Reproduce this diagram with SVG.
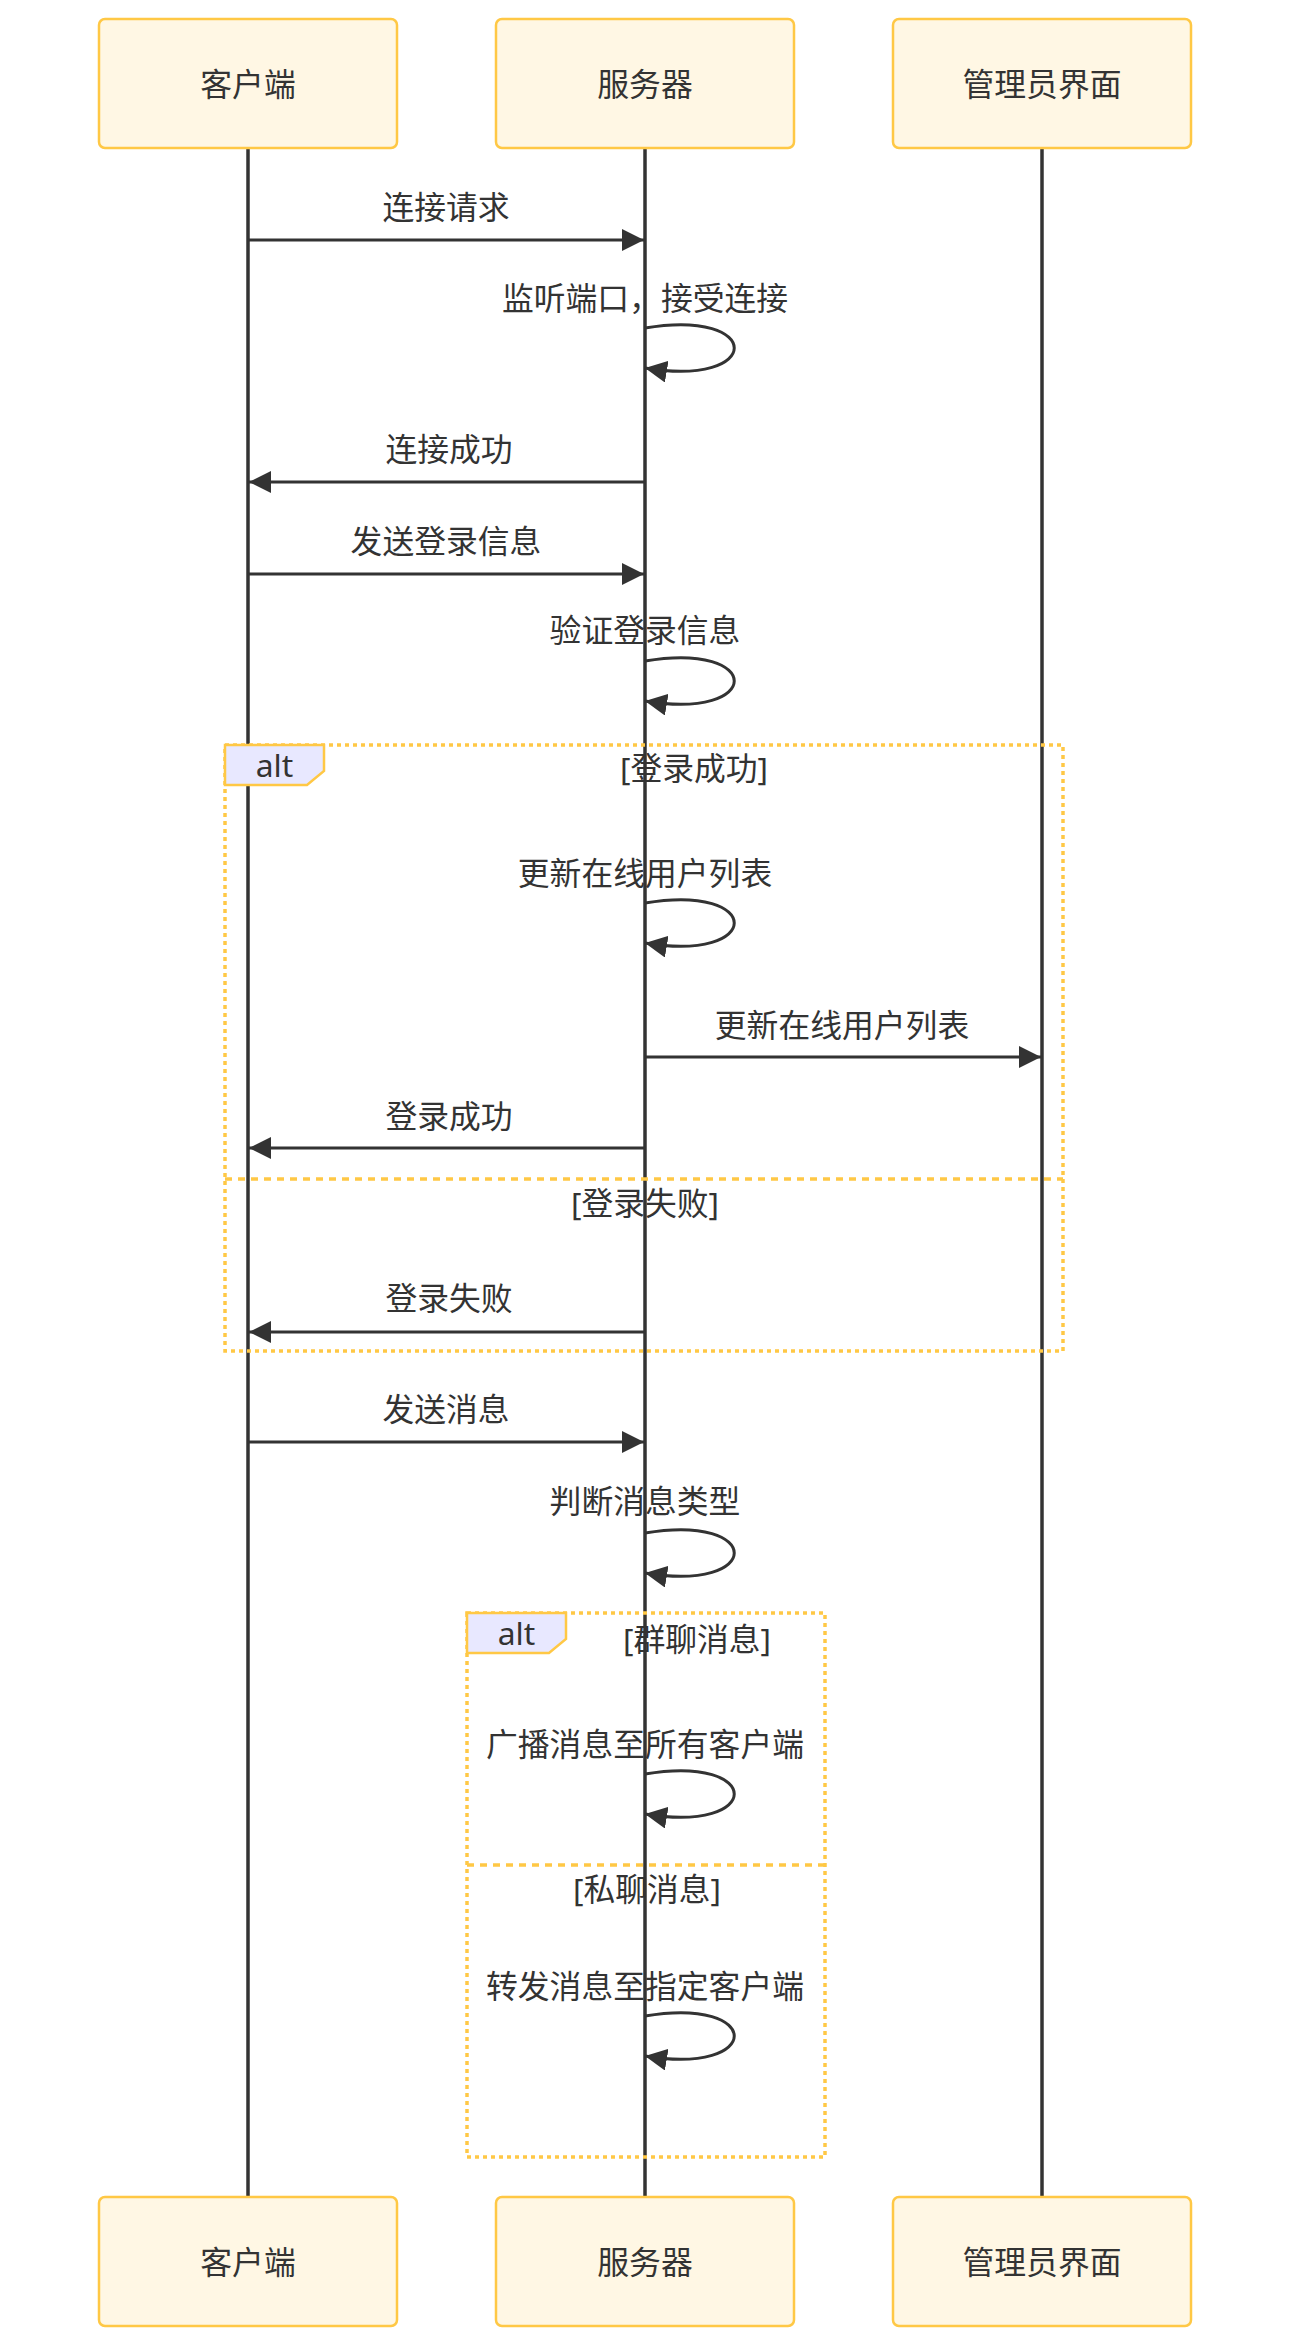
<svg xmlns="http://www.w3.org/2000/svg" width="1290" height="2348" viewBox="0 0 1290 2348">
<style>
text{font-family:"Noto Sans","Noto Sans CJK SC",sans-serif;font-size:31.8px;fill:#333;text-anchor:middle;dominant-baseline:central}
.actor{fill:#fff7e4;stroke:#ffc845;stroke-width:2.5}
.life{stroke:#333;stroke-width:3.5}
.msg{stroke:#333;stroke-width:3;fill:none}
.loop{fill:none;stroke:#ffc845;stroke-width:3.5;stroke-dasharray:4 4}
.sep{fill:none;stroke:#ffc845;stroke-width:3.5;stroke-dasharray:7 6}
.lbl{fill:#e8e8ff;stroke:#ffc845;stroke-width:2.5}
</style>
<defs>
<marker id="arrow" viewBox="0 0 10 10" refX="10" refY="5" markerWidth="22" markerHeight="22" markerUnits="userSpaceOnUse" orient="auto">
<path d="M0,0 L10,5 L0,10 z" fill="#333"/>
</marker>
</defs>
<rect width="1290" height="2348" fill="#fff"/>
<g id="lifelines">
<line class="life" x1="248" y1="148" x2="248" y2="2197"/>
<line class="life" x1="645" y1="148" x2="645" y2="2197"/>
<line class="life" x1="1042" y1="148" x2="1042" y2="2197"/>
</g>
<g id="alt1">
<rect class="loop" x="225" y="745" width="838" height="606"/>
<line class="sep" x1="225" y1="1179" x2="1063" y2="1179"/>
<polygon class="lbl" points="225,745 324,745 324,771 307,785 225,785"/>
<text x="274.5" y="764">alt</text>
<text x="694" y="767">[登录成功]</text>
<text x="645" y="1202">[登录失败]</text>
</g>
<g id="alt2">
<rect class="loop" x="467" y="1613" width="358" height="544"/>
<line class="sep" x1="467" y1="1865" x2="825" y2="1865"/>
<polygon class="lbl" points="467,1613 566,1613 566,1639 549,1653 467,1653"/>
<text x="516.5" y="1632">alt</text>
<text x="697" y="1638">[群聊消息]</text>
<text x="647" y="1888">[私聊消息]</text>
</g>
<g id="actor-client-top"><rect class="actor" x="99" y="19" width="298" height="129" rx="6"/><text x="248" y="83">客户端</text></g>
<g id="actor-server-top"><rect class="actor" x="496" y="19" width="298" height="129" rx="6"/><text x="645" y="83">服务器</text></g>
<g id="actor-admin-top"><rect class="actor" x="893" y="19" width="298" height="129" rx="6"/><text x="1042" y="83">管理员界面</text></g>
<g id="actor-client-bottom"><rect class="actor" x="99" y="2197" width="298" height="129" rx="6"/><text x="248" y="2261">客户端</text></g>
<g id="actor-server-bottom"><rect class="actor" x="496" y="2197" width="298" height="129" rx="6"/><text x="645" y="2261">服务器</text></g>
<g id="actor-admin-bottom"><rect class="actor" x="893" y="2197" width="298" height="129" rx="6"/><text x="1042" y="2261">管理员界面</text></g>
<g id="connectors">
<line class="msg" x1="248" y1="240" x2="644" y2="240" marker-end="url(#arrow)"/>
<text x="446" y="206">连接请求</text>
<path class="msg" d="M645,328 C764,308 764,388 645,368" marker-end="url(#arrow)"/>
<text x="645" y="297">监听端口，接受连接</text>
<line class="msg" x1="645" y1="482" x2="249" y2="482" marker-end="url(#arrow)"/>
<text x="449" y="448">连接成功</text>
<line class="msg" x1="248" y1="574" x2="644" y2="574" marker-end="url(#arrow)"/>
<text x="446" y="540">发送登录信息</text>
<path class="msg" d="M645,661 C764,641 764,721 645,701" marker-end="url(#arrow)"/>
<text x="645" y="629">验证登录信息</text>
<path class="msg" d="M645,903 C764,883 764,963 645,943" marker-end="url(#arrow)"/>
<text x="645" y="872">更新在线用户列表</text>
<line class="msg" x1="645" y1="1057" x2="1041" y2="1057" marker-end="url(#arrow)"/>
<text x="842" y="1024">更新在线用户列表</text>
<line class="msg" x1="645" y1="1148" x2="249" y2="1148" marker-end="url(#arrow)"/>
<text x="449" y="1115">登录成功</text>
<line class="msg" x1="645" y1="1332" x2="249" y2="1332" marker-end="url(#arrow)"/>
<text x="449" y="1297">登录失败</text>
<line class="msg" x1="248" y1="1442" x2="644" y2="1442" marker-end="url(#arrow)"/>
<text x="446" y="1408">发送消息</text>
<path class="msg" d="M645,1533 C764,1513 764,1593 645,1573" marker-end="url(#arrow)"/>
<text x="645" y="1500">判断消息类型</text>
<path class="msg" d="M645,1774 C764,1754 764,1834 645,1814" marker-end="url(#arrow)"/>
<text x="645" y="1743">广播消息至所有客户端</text>
<path class="msg" d="M645,2016 C764,1996 764,2076 645,2056" marker-end="url(#arrow)"/>
<text x="645" y="1985">转发消息至指定客户端</text>
</g>
</svg>
